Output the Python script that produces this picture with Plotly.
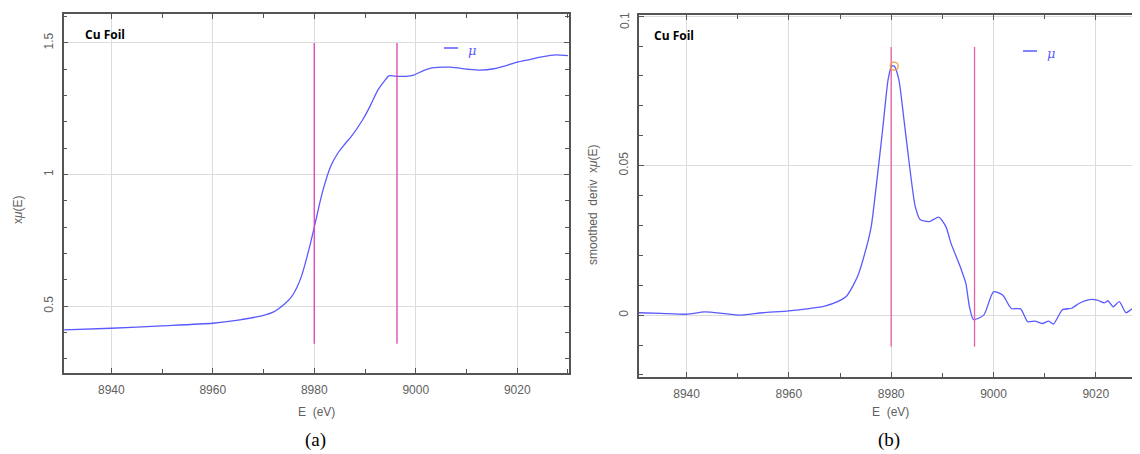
import plotly.graph_objects as go

# ---- data ----
mu_E = [8930.7, 8940, 8950, 8960, 8965, 8970, 8972, 8974.2, 8975.5, 8976.6, 8977.5, 8978.4, 8979.2,
        8980, 8981, 8981.7, 8983.2, 8984.6, 8986, 8987.5, 8989.6, 8991, 8992.5, 8993.8, 8994.7,
        8996.4, 8998, 8999.6, 9001.5, 9003.2, 9006.8, 9010.4, 9012.6, 9015.4, 9018, 9020, 9022.5,
        9024.8, 9027.6, 9030]
mu_val = [0.410, 0.416, 0.425, 0.435, 0.447, 0.465, 0.478, 0.509, 0.535, 0.572, 0.615, 0.675, 0.735,
          0.800, 0.885, 0.940, 1.030, 1.080, 1.115, 1.150, 1.210, 1.260, 1.320, 1.355, 1.375,
          1.373, 1.373, 1.378, 1.395, 1.405, 1.408, 1.400, 1.397, 1.402, 1.415, 1.427, 1.437,
          1.447, 1.455, 1.452]

der_E = [8930.7, 8935, 8940, 8943.5, 8947, 8950, 8954.9, 8960, 8964, 8967.0, 8969.5, 8971.3, 8973.4,
         8975.2, 8976.1, 8977.3, 8978.4, 8979.4, 8980.1, 8980.6, 8981.5, 8982.5, 8983.6, 8984.7,
         8985.7, 8987.5, 8989.3, 8990.7, 8991.7, 8993.5, 8994.6, 8995.3, 8996.1, 8998.1, 9000.0,
         9001.8, 9003.5, 9005.3, 9006.7, 9008.1, 9009.5, 9010.8, 9011.7, 9013.5, 9015.3, 9016.7,
         9018.8, 9020.3, 9021.7, 9022.4, 9023.4, 9024.6, 9025.9, 9027.3, 9028.6]
der_val = [0.0008, 0.0006, 0.0003, 0.0011, 0.0006, 0.0000, 0.0008, 0.0014, 0.0022, 0.0030, 0.0045,
           0.0064, 0.0128, 0.0229, 0.0296, 0.0464, 0.0632, 0.0788, 0.0833, 0.0833, 0.0788, 0.0654,
           0.0498, 0.0364, 0.0319, 0.0313, 0.0328, 0.0296, 0.0240, 0.0162, 0.0106, 0.0028, -0.0015,
           0.0000, 0.0078, 0.0067, 0.0022, 0.0021, -0.0022, -0.0020, -0.0028, -0.0020, -0.0030,
           0.0018, 0.0023, 0.0039, 0.0052, 0.0050, 0.0041, 0.0048, 0.0028, 0.0045, 0.0008, 0.0022,
           -0.0003]

peak_E = [8980.6]
peak_val = [0.0833]

vlines_E = [8980.0, 8996.3]
vline_mu_span = [0.357, 1.5]
vline_der_span = [-0.0106, 0.0897]

x_ticks = [8940, 8960, 8980, 9000, 9020]
mu_ticks = [0.5, 1, 1.5]
mu_ticklabels = ["0.5", "1", "1.5"]
der_ticks = [0, 0.05, 0.1]
der_ticklabels = ["0", "0.05", "0.1"]

# the page body has an 8px margin; work in screen pixels and subtract it
OFF = 8
W, H = 1140 - OFF, 454 - OFF
BLUE = "#5a5aff"
GRAY = "#555555"
TICKFONT = dict(family="Liberation Sans", size=12, color="#606060")


def px(x):
    return (x - OFF) / W


def py(y):
    return 1 - (y - OFF) / H


fig = go.Figure()

# left panel
fig.add_trace(go.Scatter(x=mu_E, y=mu_val, mode="lines",
                         line=dict(color=BLUE, width=1.3, shape="spline", smoothing=0.6),
                         xaxis="x", yaxis="y", showlegend=False))
for e in vlines_E:
    fig.add_trace(go.Scatter(x=[e, e], y=vline_mu_span, mode="lines", line=dict(color="#e040b8", width=1.3),
                             xaxis="x", yaxis="y", showlegend=False))
# right panel
fig.add_trace(go.Scatter(x=der_E, y=der_val, mode="lines",
                         line=dict(color=BLUE, width=1.3, shape="spline", smoothing=0.6),
                         xaxis="x2", yaxis="y2", showlegend=False))
for e in vlines_E:
    fig.add_trace(go.Scatter(x=[e, e], y=vline_der_span, mode="lines", line=dict(color="#e660a8", width=1.3),
                             xaxis="x2", yaxis="y2", showlegend=False))
fig.add_trace(go.Scatter(x=peak_E, y=peak_val, mode="markers",
                         marker=dict(symbol="circle-open", size=8, color="#f0a040", line=dict(width=1.3)),
                         xaxis="x2", yaxis="y2", showlegend=False))


def xax(domain, anchor, rng):
    return dict(domain=domain, anchor=anchor, range=rng, automargin=False,
                tickvals=x_ticks, tickfont=TICKFONT, showgrid=True, gridcolor="#dcdcdc", gridwidth=1.2,
                zeroline=False, showline=True, linecolor=GRAY, linewidth=1.5, mirror="ticks",
                ticks="inside", ticklen=5, tickcolor=GRAY,
                minor=dict(dtick=10, ticks="inside", ticklen=4, tickcolor=GRAY, showgrid=False),
                ticklabelstandoff=5)


def yax(domain, anchor, rng, tv, tt, dt):
    return dict(domain=domain, anchor=anchor, range=rng, tickvals=tv, ticktext=tt, tickangle=-90,
                automargin=False,
                tickfont=TICKFONT, showgrid=True, gridcolor="#dcdcdc", gridwidth=1.2,
                zeroline=False, showline=True, linecolor=GRAY, linewidth=1.5, mirror="ticks",
                ticks="inside", ticklen=5, tickcolor=GRAY, ticklabeloverflow="allow",
                minor=dict(dtick=dt, ticks="inside", ticklen=4, tickcolor=GRAY, showgrid=False),
                ticklabelstandoff=4)


# top label of the right panel sits just under the frame edge; it is drawn as a text below
der_axis_text = der_ticklabels[:-1] + [""]

fig.update_layout(
    width=W, height=H, margin=dict(l=0, r=0, t=0, b=0, autoexpand=False),
    paper_bgcolor="white", plot_bgcolor="white", showlegend=False,
    xaxis=xax([px(63.6), px(569)], "y", [8930.6, 9030.2]),
    yaxis=yax([py(373), py(14)], "x", [0.246, 1.61], mu_ticks, mu_ticklabels, 0.1),
    xaxis2=xax([px(639), 1.0], "y2", [8930.7, 8930.7 + (1140 - 639) / 5.115]),
    yaxis2=yax([py(377), py(15)], "x2", [-0.0207, 0.1004], der_ticks, der_axis_text, 0.01),
)

ann = []


def txt(x, y, s, font, xanchor="center", **kw):
    ann.append(dict(x=px(x), y=py(y), xref="paper", yref="paper", text=s, showarrow=False,
                    font=font, xanchor=xanchor, yanchor="middle", **kw))


labfont = dict(family="Liberation Sans", size=12, color="#606060")
txt(316, 412, "E  (eV)", labfont)
txt(890, 412, "E  (eV)", labfont)
txt(18, 210, "x<i>μ</i>(E)", labfont, textangle=-90)
txt(593, 205, "smoothed  deriv  x<i>μ</i>(E)", labfont, textangle=-90)
txt(625, 21, der_ticklabels[-1], TICKFONT, textangle=-90)
cu = dict(family="Open Sans", size=12, color="black")
txt(83, 35, "<b>Cu Foil</b>", cu, xanchor="left")
txt(652, 36, "<b>Cu Foil</b>", cu, xanchor="left")
mufont = dict(family="DejaVu Serif", size=13, color=BLUE)
txt(466, 51, "<i>μ</i>", mufont, xanchor="left")
txt(1045, 54, "<i>μ</i>", mufont, xanchor="left")
serif = dict(family="Liberation Serif", size=19, color="black")
txt(315, 440, "(a)", serif)
txt(889, 440, "(b)", serif)

fig.update_layout(annotations=ann)

# legend line samples
shapes = [
    dict(type="line", xref="paper", yref="paper", x0=px(444), x1=px(458), y0=py(48), y1=py(48),
         line=dict(color=BLUE, width=1.5)),
    dict(type="line", xref="paper", yref="paper", x0=px(1023), x1=px(1037), y0=py(51), y1=py(51),
         line=dict(color=BLUE, width=1.5)),
]
fig.update_layout(shapes=shapes)

fig.write_html("out.html")
